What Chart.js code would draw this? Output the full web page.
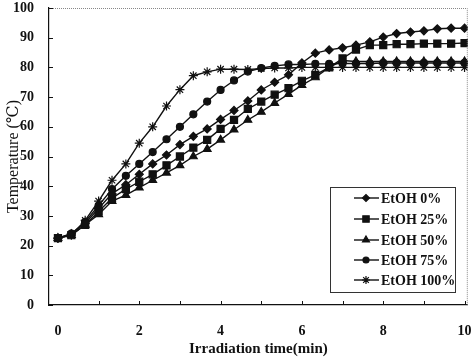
<!DOCTYPE html>
<html>
<head>
<meta charset="utf-8">
<script src="https://cdn.jsdelivr.net/npm/chart.js@4"></script>
<style>
  html, body { margin: 0; padding: 0; background: #fff; }
  #wrap { width: 474px; height: 362px; }
</style>
</head>
<body>
<div id="wrap"><canvas id="chart1" width="474" height="362"></canvas></div>
<script>
// irradiation time (min), one reading every 20 s
const times = [0, 0.33, 0.67, 1, 1.33, 1.67, 2, 2.33, 2.67, 3, 3.33, 3.67, 4, 4.33, 4.67, 5,
  5.33, 5.67, 6, 6.33, 6.67, 7, 7.33, 7.67, 8, 8.33, 8.67, 9, 9.33, 9.67, 10];

const etoh0 = [22.5, 24, 27.5, 32.5, 37.5, 40.5, 44, 47.5, 50.5, 54, 56.8, 59.3, 62.5, 65.5, 68.7, 72.4,
  75, 77.5, 81.5, 84.8, 85.9, 86.6, 87.5, 88.6, 90.2, 91.4, 91.9, 92.3, 93, 93.2, 93.2];
const etoh25 = [22.5, 23.5, 27, 31.5, 36, 39, 41.5, 44, 47, 50, 53, 55.6, 59.3, 62.3, 66, 68.5,
  70.8, 73, 75.5, 77.5, 80, 83, 86, 87.5, 87.5, 87.8, 87.8, 88, 88, 88, 88.2];
const etoh50 = [22.5, 23.5, 27, 30.5, 35, 37, 39.5, 42, 44.5, 47, 50, 52.5, 55.6, 59, 62.3, 65,
  68, 71, 74, 76.6, 80, 82.3, 82, 82, 82, 82, 82, 82, 82, 82, 82];
const etoh75 = [22.5, 24, 28, 33.5, 39, 43.5, 47.5, 51.5, 55.8, 60, 64.2, 68.5, 72.4, 75.6, 78.6, 79.8,
  80.5, 81, 81, 81.2, 81.2, 81.3, 81.3, 81.3, 81.5, 81.5, 81.5, 81.5, 81.5, 81.5, 81.5];
const etoh100 = [22.5, 23.5, 28.5, 35, 42, 47.5, 54.5, 60, 67, 72.5, 77.2, 78.5, 79.4, 79.4, 79.3, 79.6,
  79.8, 79.8, 80, 80, 80, 80, 80, 80, 80, 80, 80, 80, 80, 80, 80];

const seriesNames = ['EtOH 0%', 'EtOH 25%', 'EtOH 50%', 'EtOH 75%', 'EtOH 100%'];
const xTicks = [0, 2, 4, 6, 8, 10];
const yTicks = [0, 10, 20, 30, 40, 50, 60, 70, 80, 90, 100];

const ink = '#111';
const markers = [
  {style: 'rectRot', r: 4},
  {style: 'rect', r: 5},
  {style: 'triangle', r: 4.5},
  {style: 'circle', r: 3.5},
  {style: 'star', r: 4.5}
];
const allData = [etoh0, etoh25, etoh50, etoh75, etoh100];

const datasets = allData.map((vals, i) => ({
  label: seriesNames[i],
  data: times.map((t, j) => ({x: t, y: vals[j]})),
  borderColor: ink,
  backgroundColor: ink,
  borderWidth: 1.4,
  pointStyle: markers[i].style,
  pointRadius: markers[i].r,
  pointBorderWidth: 1.2,
  pointBackgroundColor: ink,
  pointBorderColor: ink,
  tension: 0
}));

const serif = '"Liberation Serif", "DejaVu Serif", serif';

// inward tick marks, top/right frame and the boxed legend
const extras = {
  id: 'extras',
  afterDraw(chart) {
    const {ctx, chartArea: a, scales} = chart;
    ctx.save();
    ctx.strokeStyle = '#888';
    ctx.lineWidth = 1;
    ctx.setLineDash([1, 1]);
    ctx.beginPath();
    ctx.moveTo(a.left, a.top + 0.5);
    ctx.lineTo(a.right - 0.5, a.top + 0.5);
    ctx.lineTo(a.right - 0.5, a.bottom);
    ctx.stroke();
    ctx.setLineDash([]);

    ctx.strokeStyle = ink;
    ctx.beginPath();
    for (let v = 1; v <= 10; v++) {
      const px = Math.round(scales.x.getPixelForValue(v)) + 0.5;
      ctx.moveTo(px, a.bottom);
      ctx.lineTo(px, a.bottom - 4);
    }
    yTicks.forEach(v => {
      const py = Math.round(scales.y.getPixelForValue(v)) + 0.5;
      ctx.moveTo(a.left, py);
      ctx.lineTo(a.left + 4, py);
    });
    ctx.stroke();

    // legend
    const bx = 330, by = 187, bw = 125, bh = 105;
    ctx.fillStyle = '#fff';
    ctx.fillRect(bx, by, bw, bh);
    ctx.strokeStyle = '#333';
    ctx.strokeRect(bx + 0.5, by + 0.5, bw, bh);
    ctx.font = 'bold 14px ' + serif;
    ctx.textBaseline = 'middle';
    ctx.textAlign = 'left';
    const rows = [198, 219, 240, 260, 280];
    seriesNames.forEach((name, i) => {
      const y = rows[i];
      ctx.strokeStyle = ink;
      ctx.lineWidth = 1.4;
      ctx.beginPath();
      ctx.moveTo(354, y);
      ctx.lineTo(379, y);
      ctx.stroke();
      ctx.fillStyle = ink;
      ctx.lineWidth = 1.2;
      Chart.helpers.drawPoint(ctx, {pointStyle: markers[i].style, radius: markers[i].r - 0.5, borderWidth: 1.2}, 366, y);
      ctx.fillStyle = ink;
      ctx.fillText(name, 381, y + 1);
    });
    ctx.restore();
  }
};

new Chart(document.getElementById('chart1').getContext('2d'), {
  type: 'line',
  data: {datasets},
  options: {
    responsive: false,
    animation: false,
    layout: {padding: {left: 0, top: 8, right: 5, bottom: 0}},
    plugins: {legend: {display: false}, tooltip: {enabled: false}},
    scales: {
      x: {
        type: 'linear',
        min: -0.22,
        max: 10.08,
        afterFit(s) { s.height = 57; s.paddingLeft = 0; s.paddingRight = 0; },
        afterBuildTicks(s) { s.ticks = xTicks.map(v => ({value: v})); },
        grid: {display: false},
        border: {display: true, color: ink, width: 1.2},
        ticks: {color: ink, font: {family: serif, size: 14, weight: 'bold'}, padding: 10, maxRotation: 0},
        title: {display: true, text: 'Irradiation time(min)', color: ink,
          font: {family: serif, size: 15, weight: 'bold'}, padding: {top: 0, bottom: 4}}
      },
      y: {
        min: 0,
        max: 100,
        afterFit(s) { s.width = 49; s.paddingTop = 0; s.paddingBottom = 0; },
        afterBuildTicks(s) { s.ticks = yTicks.map(v => ({value: v})); },
        grid: {display: false},
        border: {display: true, color: ink, width: 1.2},
        ticks: {color: ink, font: {family: serif, size: 14, weight: 'bold'}, padding: 7},
        title: {display: true, text: 'Temperature (℃)', color: ink,
          font: {family: serif, size: 16}, padding: {top: 4, bottom: 0}}
      }
    }
  },
  plugins: [extras]
});
</script>
</body>
</html>
